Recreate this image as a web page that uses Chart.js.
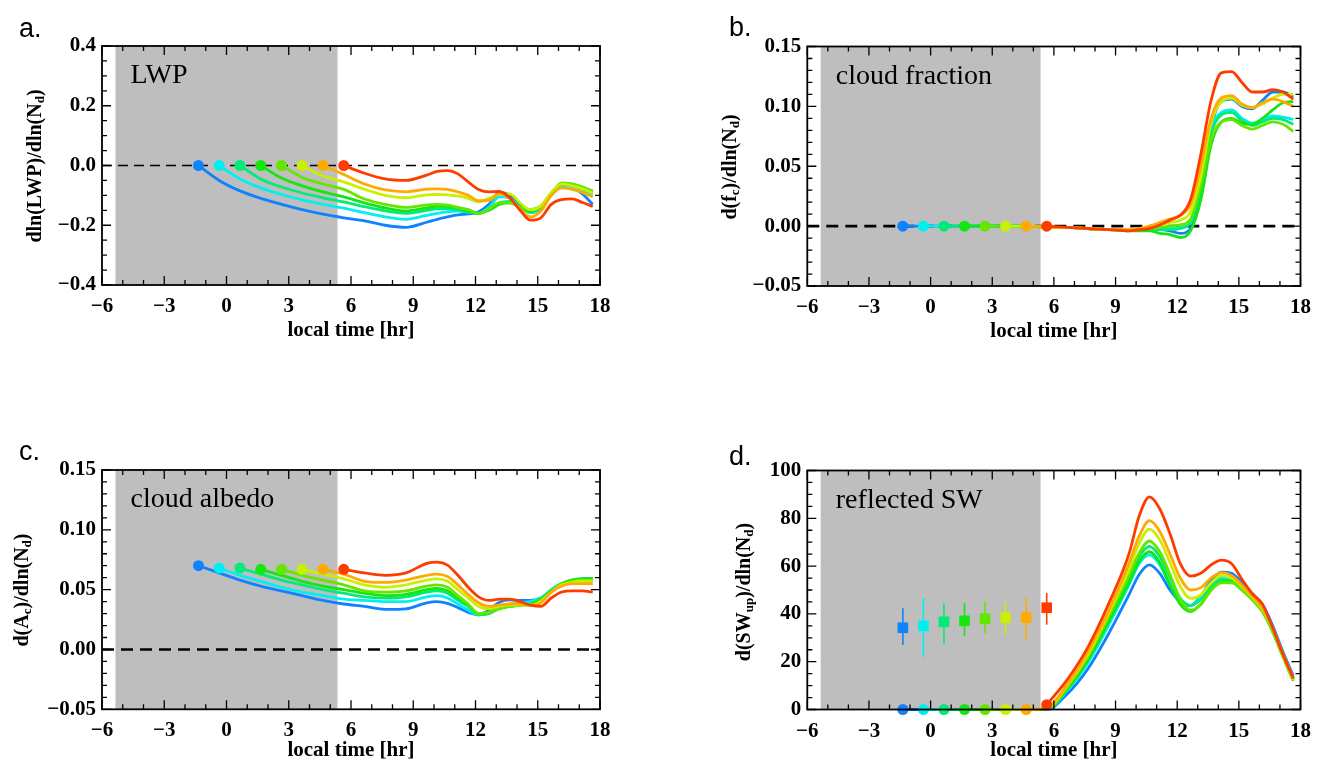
<!DOCTYPE html>
<html>
<head>
<meta charset="utf-8">
<title>Diurnal susceptibility</title>
<script src="https://cdn.jsdelivr.net/npm/chart.js@4.4.1/dist/chart.umd.min.js"></script>
<style>
  body { margin: 0; background: #fff; width: 1320px; height: 765px; position: relative; overflow: hidden; }
  canvas { position: absolute; }
</style>
</head>
<body>
<canvas id="panelA" width="660" height="400" style="left:0;top:0"></canvas>
<canvas id="panelB" width="660" height="400" style="left:660px;top:0"></canvas>
<canvas id="panelC" width="660" height="400" style="left:0;top:365px"></canvas>
<canvas id="panelD" width="660" height="400" style="left:660px;top:365px"></canvas>
<script>
// local time grid shared by all curves; series k starts at hours[k]
const hours = [-1.35, -0.35, 0.65, 1.65, 2.65, 3.65, 4.65, 5.65, 6.65, 7.65, 8.65, 9.65,
  10.15, 10.65, 11.15, 11.65, 12.15, 12.65, 13.15, 13.65, 14.15, 14.65, 15.15, 15.65,
  16.15, 16.65, 17.15, 17.65];
const nightSpan = [-5.35, 5.35];
const xTicks = [-6, -3, 0, 3, 6, 9, 12, 15, 18];
const colors = ['#0F82FF', '#00F0F0', '#00EB78', '#14E614', '#64E600', '#C8F000', '#FFAA00', '#FF3C00'];

// a. LWP
const lwpTicks = [-0.4, -0.2, 0, 0.2, 0.4];
const lwpSeries = [
  [0, -0.05, -0.085, -0.11, -0.13, -0.148, -0.163, -0.175, -0.185, -0.2, -0.207, -0.19, -0.18, -0.172, -0.165, -0.162, -0.155, -0.13, -0.09, -0.1, -0.135, -0.152, -0.138, -0.095, -0.064, -0.072, -0.095, -0.13],
  [0, -0.045, -0.075, -0.097, -0.115, -0.13, -0.143, -0.158, -0.172, -0.18, -0.167, -0.16, -0.155, -0.153, -0.156, -0.16, -0.14, -0.105, -0.11, -0.14, -0.158, -0.145, -0.1, -0.068, -0.075, -0.085, -0.098],
  [0, -0.045, -0.072, -0.092, -0.108, -0.122, -0.138, -0.152, -0.16, -0.15, -0.145, -0.145, -0.148, -0.155, -0.16, -0.148, -0.125, -0.12, -0.14, -0.155, -0.14, -0.098, -0.062, -0.065, -0.075, -0.085],
  [0, -0.042, -0.068, -0.088, -0.105, -0.125, -0.142, -0.152, -0.142, -0.137, -0.138, -0.143, -0.152, -0.16, -0.15, -0.13, -0.125, -0.14, -0.152, -0.138, -0.095, -0.06, -0.062, -0.072, -0.09],
  [0, -0.04, -0.062, -0.08, -0.112, -0.13, -0.14, -0.132, -0.13, -0.133, -0.14, -0.148, -0.16, -0.145, -0.125, -0.125, -0.14, -0.148, -0.135, -0.095, -0.058, -0.062, -0.072, -0.087],
  [0, -0.035, -0.055, -0.08, -0.1, -0.108, -0.098, -0.097, -0.098, -0.102, -0.11, -0.122, -0.11, -0.097, -0.095, -0.125, -0.148, -0.135, -0.09, -0.062, -0.068, -0.078, -0.092],
  [0, -0.03, -0.062, -0.082, -0.088, -0.079, -0.078, -0.08, -0.088, -0.1, -0.118, -0.117, -0.095, -0.11, -0.148, -0.172, -0.152, -0.1, -0.075, -0.08, -0.09, -0.105],
  [0, -0.026, -0.045, -0.05, -0.032, -0.02, -0.017, -0.028, -0.055, -0.08, -0.088, -0.087, -0.108, -0.15, -0.183, -0.175, -0.13, -0.114, -0.112, -0.124, -0.137]
];

// b. cloud fraction
const fracTicks = [-0.05, 0, 0.05, 0.1, 0.15];
const fracSeries = [
  [0, 0, 0, 0, 0, 0, 0, -0.001, -0.001, -0.002, -0.003, -0.003, -0.003, -0.003, -0.003, -0.004, -0.006, -0.002, 0.027, 0.082, 0.104, 0.106, 0.1, 0.098, 0.105, 0.112, 0.112, 0.108],
  [0, 0, 0, 0, 0, 0, -0.001, -0.001, -0.002, -0.003, -0.003, -0.003, -0.003, -0.002, -0.002, -0.001, 0.003, 0.032, 0.08, 0.095, 0.097, 0.09, 0.086, 0.089, 0.092, 0.091, 0.089],
  [0, 0, 0, 0, 0, -0.001, -0.001, -0.002, -0.003, -0.003, -0.003, -0.003, -0.003, -0.003, -0.002, 0.003, 0.03, 0.077, 0.093, 0.095, 0.088, 0.084, 0.087, 0.09, 0.089, 0.085],
  [0, 0, 0, 0, -0.001, -0.001, -0.002, -0.003, -0.004, -0.004, -0.004, -0.006, -0.007, -0.0095, -0.004, 0.022, 0.068, 0.087, 0.09, 0.086, 0.085, 0.09, 0.097, 0.103, 0.104],
  [0, 0, 0, -0.001, -0.001, -0.002, -0.003, -0.003, -0.002, -0.002, -0.001, 0, 0.001, 0.006, 0.034, 0.072, 0.087, 0.089, 0.084, 0.081, 0.084, 0.087, 0.085, 0.079],
  [0, 0, -0.001, -0.001, -0.002, -0.003, -0.003, -0.002, -0.001, 0.001, 0.003, 0.005, 0.012, 0.042, 0.086, 0.104, 0.107, 0.101, 0.099, 0.102, 0.107, 0.11, 0.11],
  [0, -0.001, -0.001, -0.002, -0.003, -0.003, -0.002, 0, 0.003, 0.006, 0.009, 0.018, 0.05, 0.09, 0.107, 0.109, 0.102, 0.099, 0.103, 0.106, 0.104, 0.1],
  [0, -0.001, -0.002, -0.003, -0.004, -0.003, -0.002, 0.001, 0.005, 0.009, 0.022, 0.06, 0.105, 0.128, 0.129, 0.12, 0.112, 0.112, 0.114, 0.112, 0.106]
];

// c. cloud albedo
const albedoTicks = [-0.05, 0, 0.05, 0.1, 0.15];
const albedoSeries = [
  [0.07, 0.064, 0.058, 0.053, 0.049, 0.045, 0.041, 0.038, 0.036, 0.0335, 0.034, 0.039, 0.04, 0.0385, 0.035, 0.031, 0.029, 0.033, 0.0395, 0.0415, 0.041, 0.041, 0.043, 0.049, 0.054, 0.057, 0.059, 0.0595],
  [0.068, 0.062, 0.057, 0.052, 0.048, 0.045, 0.042, 0.041, 0.04, 0.04, 0.044, 0.045, 0.043, 0.038, 0.033, 0.029, 0.031, 0.036, 0.038, 0.039, 0.04, 0.043, 0.05, 0.055, 0.057, 0.058, 0.058],
  [0.068, 0.063, 0.058, 0.054, 0.05, 0.047, 0.044, 0.043, 0.044, 0.048, 0.049, 0.047, 0.041, 0.036, 0.029, 0.03, 0.034, 0.036, 0.037, 0.038, 0.042, 0.049, 0.055, 0.058, 0.059, 0.059],
  [0.067, 0.062, 0.057, 0.053, 0.05, 0.047, 0.045, 0.046, 0.05, 0.051, 0.049, 0.043, 0.037, 0.03, 0.031, 0.035, 0.036, 0.037, 0.038, 0.042, 0.049, 0.055, 0.058, 0.059, 0.059],
  [0.067, 0.062, 0.058, 0.054, 0.049, 0.048, 0.049, 0.053, 0.054, 0.052, 0.045, 0.038, 0.03, 0.031, 0.034, 0.036, 0.037, 0.037, 0.041, 0.048, 0.054, 0.057, 0.058, 0.058],
  [0.067, 0.063, 0.059, 0.054, 0.052, 0.054, 0.058, 0.059, 0.057, 0.05, 0.043, 0.036, 0.034, 0.036, 0.037, 0.037, 0.037, 0.04, 0.048, 0.054, 0.056, 0.057, 0.057],
  [0.067, 0.063, 0.057, 0.056, 0.058, 0.062, 0.063, 0.061, 0.054, 0.046, 0.039, 0.036, 0.037, 0.038, 0.038, 0.037, 0.039, 0.048, 0.053, 0.055, 0.055, 0.055],
  [0.067, 0.064, 0.062, 0.064, 0.072, 0.073, 0.0705, 0.062, 0.052, 0.044, 0.041, 0.042, 0.042, 0.04, 0.037, 0.036, 0.043, 0.048, 0.049, 0.049, 0.048]
];

// d. reflected SW
const swTicks = [0, 20, 40, 60, 80, 100];
const swSeries = [
  [0, 0, 0, 0, 0, 0, 0, 0, 6.5, 17, 31.5, 48, 56.5, 60.5, 57, 50, 45, 43.5, 47.5, 54, 57.5, 57, 53, 48.5, 44, 35, 24, 14],
  [0, 0, 0, 0, 0, 0, 0.1, 8, 19.5, 35, 52, 61, 64.7, 60.5, 52, 45.5, 43.5, 47, 52.5, 55.2, 55, 51, 47, 42, 33.5, 23, 13],
  [0, 0, 0, 0, 0, 0.2, 9, 21.5, 37.5, 55, 64, 68.2, 64, 55, 46.5, 43.5, 46, 51.5, 54.2, 54, 50.5, 46.5, 41.5, 33, 22.5, 12.5],
  [0, 0, 0, 0, 0.2, 8.5, 20.5, 36.5, 53, 62, 66, 61.5, 52, 44, 41, 44, 50, 53.5, 53.5, 50, 46, 41, 32.5, 22, 12],
  [0, 0, 0, 0.3, 9.5, 22, 38.5, 56, 65.5, 70.5, 66, 56.5, 46, 41.5, 44, 50, 53, 53, 50, 46, 41, 32.5, 22, 12],
  [0, 0, 0.5, 10, 23, 40, 58.5, 69.5, 75.5, 71, 61.5, 51.5, 46.5, 48, 53, 56, 55, 51.5, 47, 42, 33.5, 22.5, 12.5],
  [0, 0.8, 10.5, 24, 41, 61, 72.5, 79, 74.5, 65, 55, 50, 51, 55, 57.3, 56, 52, 47.5, 42.5, 34, 23, 13],
  [2, 12.5, 26, 44, 65, 81, 89, 84, 73.5, 61, 55.8, 57, 60.5, 62.5, 61, 54.5, 48.5, 44, 34, 23, 13]
];
const swSquare = [34.2, 35, 36.7, 37.1, 38, 38.4, 38.4, 42.6];
const swLow = [27, 22, 27.7, 30.8, 32, 31.5, 29, 35.5];
const swHigh = [42.4, 46.6, 44.5, 44.7, 45.3, 45.1, 46.8, 48.8];

const serif = '"Liberation Serif", "Times New Roman", serif';
const tickFont = { family: serif, size: 21, weight: 'bold' };

function fmt(dec) {
  return v => (v < 0 ? '\u2212' : '') + Math.abs(v).toFixed(dec);
}

function drawTicks(ctx, scale, area, major, minor, horizontal) {
  const n = Math.round((scale.max - scale.min) / minor);
  ctx.beginPath();
  for (let i = 0; i <= n; i++) {
    const v = scale.min + i * minor;
    const r = v / major;
    const len = Math.abs(r - Math.round(r)) < 1e-6 ? 9 : 5;
    const p = scale.getPixelForValue(v);
    if (horizontal) {
      ctx.moveTo(p, area.bottom); ctx.lineTo(p, area.bottom - len);
      ctx.moveTo(p, area.top); ctx.lineTo(p, area.top + len);
    } else {
      ctx.moveTo(area.left, p); ctx.lineTo(area.left + len, p);
      ctx.moveTo(area.right, p); ctx.lineTo(area.right - len, p);
    }
  }
  ctx.stroke();
}

// y title with subscripts, rotated so that it reads upwards
function drawYTitle(ctx, parts, cx, cy) {
  const main = 'bold 20px ' + serif, sub = 'bold 13px ' + serif;
  ctx.save();
  ctx.translate(cx, cy);
  ctx.rotate(-Math.PI / 2);
  ctx.textBaseline = 'middle';
  ctx.textAlign = 'left';
  ctx.fillStyle = '#000';
  let w = 0;
  parts.forEach(([t, s]) => { ctx.font = s ? sub : main; w += ctx.measureText(t).width; });
  let px = -w / 2;
  parts.forEach(([t, s]) => {
    ctx.font = s ? sub : main;
    ctx.fillText(t, px, s ? 5 : 0);
    px += ctx.measureText(t).width;
  });
  ctx.restore();
}

const panelDeco = {
  id: 'panelDeco',
  beforeDatasetsDraw(chart, args, o) {
    const { ctx, chartArea: a, scales: { x, y } } = chart;
    ctx.save();
    ctx.fillStyle = '#BEBEBE';
    const x0 = x.getPixelForValue(nightSpan[0]);
    const x1 = x.getPixelForValue(nightSpan[1]);
    ctx.fillRect(x0, a.top, x1 - x0, a.bottom - a.top);
    if (o.zero) {
      const y0 = y.getPixelForValue(0);
      ctx.strokeStyle = '#000';
      ctx.lineWidth = o.zero === 'thin' ? 1.3 : 2.6;
      ctx.setLineDash(o.zero === 'thin' ? [10, 6] : [12, 7]);
      ctx.beginPath();
      ctx.moveTo(a.left, y0);
      ctx.lineTo(a.right, y0);
      ctx.stroke();
      ctx.setLineDash([]);
    }
    if (o.bars) {
      ctx.lineWidth = 1.6;
      swLow.forEach((lo, i) => {
        const px = x.getPixelForValue(hours[i]);
        ctx.strokeStyle = colors[i];
        ctx.beginPath();
        ctx.moveTo(px, y.getPixelForValue(lo));
        ctx.lineTo(px, y.getPixelForValue(swHigh[i]));
        ctx.stroke();
      });
    }
    ctx.restore();
  },
  afterDraw(chart, args, o) {
    const { ctx, chartArea: a, scales: { x, y } } = chart;
    ctx.save();
    ctx.strokeStyle = '#000';
    ctx.lineWidth = 1.3;
    drawTicks(ctx, x, a, 3, 1, true);
    drawTicks(ctx, y, a, o.major, o.minor, false);
    ctx.lineWidth = 1.8;
    ctx.strokeRect(a.left, a.top, a.right - a.left, a.bottom - a.top);
    ctx.fillStyle = '#000';
    ctx.textBaseline = 'alphabetic';
    ctx.textAlign = 'left';
    ctx.font = '28px ' + serif;
    ctx.fillText(o.label, a.left + 28.5, a.top + 37);
    ctx.font = '27px "Liberation Sans", Arial, sans-serif';
    ctx.fillText(o.tag, o.tagAt[0], o.tagAt[1]);
    ctx.restore();
    drawYTitle(ctx, o.title, o.titleAt[0], o.titleAt[1]);
  }
};

function makePanel(id, cfg) {
  const datasets = cfg.series.map((vals, k) => ({
    data: vals.map((v, i) => ({ x: hours[k + i], y: v })),
    borderColor: colors[k],
    backgroundColor: colors[k],
    borderWidth: 2.8,
    pointRadius: vals.map((_, i) => (i === 0 ? 5.5 : 0)),
    pointBorderWidth: 0,
    pointHoverRadius: 0,
    cubicInterpolationMode: 'monotone',
    clip: false,
    order: 7 - k
  }));
  if (cfg.squares) {
    datasets.push({
      data: swSquare.map((v, i) => ({ x: hours[i], y: v })),
      showLine: false,
      pointStyle: 'rect',
      pointRadius: 7.5,
      pointBorderWidth: 0,
      pointBackgroundColor: colors,
      pointBorderColor: colors,
      clip: false,
      order: -1
    });
  }
  return new Chart(document.getElementById(id), {
    type: 'line',
    data: { datasets },
    options: {
      responsive: false,
      animation: false,
      events: [],
      layout: { padding: cfg.pad },
      plugins: {
        legend: { display: false },
        tooltip: { enabled: false },
        panelDeco: cfg.deco
      },
      scales: {
        x: {
          type: 'linear', min: -6, max: 18,
          afterFit: s => { s.height = cfg.xh; },
          afterBuildTicks: s => { s.ticks = xTicks.map(v => ({ value: v })); },
          grid: { display: false, drawTicks: false },
          border: { display: false },
          ticks: { font: tickFont, color: '#000', padding: 9, maxRotation: 0, autoSkip: false, callback: fmt(0) },
          title: { display: true, text: 'local time [hr]', font: tickFont, color: '#000', padding: 0 }
        },
        y: {
          type: 'linear', min: cfg.yTicks[0], max: cfg.yTicks[cfg.yTicks.length - 1],
          afterFit: s => { s.width = 60; },
          afterBuildTicks: s => { s.ticks = cfg.yTicks.map(v => ({ value: v })); },
          grid: { display: false, drawTicks: false },
          border: { display: false },
          ticks: { font: tickFont, color: '#000', padding: 6, autoSkip: false, callback: fmt(cfg.dec) }
        }
      }
    },
    plugins: [panelDeco]
  });
}

makePanel('panelA', {
  series: lwpSeries, yTicks: lwpTicks, dec: 1, xh: 58,
  pad: { left: 42, right: 60, top: 46, bottom: 57 },
  deco: { zero: 'thin', major: 0.2, minor: 0.05, label: 'LWP', tag: 'a.', tagAt: [19, 37],
    title: [['dln(LWP)/dln(N', false], ['d', true], [')', false]], titleAt: [36, 166] }
});
makePanel('panelB', {
  series: fracSeries, yTicks: fracTicks, dec: 2, xh: 58,
  pad: { left: 87.3, right: 14.5, top: 46.5, bottom: 56 },
  deco: { zero: 'thick', major: 0.05, minor: 0.01, label: 'cloud fraction', tag: 'b.', tagAt: [69, 36],
    title: [['d(f', false], ['c', true], [')/dln(N', false], ['d', true], [')', false]], titleAt: [71, 167] }
});
makePanel('panelC', {
  series: albedoSeries, yTicks: albedoTicks, dec: 2, xh: 54,
  pad: { left: 42, right: 60, top: 105, bottom: 1.7 },
  deco: { zero: 'thick', major: 0.05, minor: 0.01, label: 'cloud albedo', tag: 'c.', tagAt: [19, 95],
    title: [['d(A', false], ['c', true], [')/dln(N', false], ['d', true], [')', false]], titleAt: [23, 225] }
});
makePanel('panelD', {
  series: swSeries, yTicks: swTicks, dec: 0, xh: 54, squares: true,
  pad: { left: 87.3, right: 14.5, top: 105.5, bottom: 1.5 },
  deco: { zero: null, bars: true, major: 20, minor: 5, label: 'reflected SW', tag: 'd.', tagAt: [69, 100],
    title: [['d(SW', false], ['up', true], [')/dln(N', false], ['d', true], [')', false]], titleAt: [85, 227] }
});
</script>
</body>
</html>
